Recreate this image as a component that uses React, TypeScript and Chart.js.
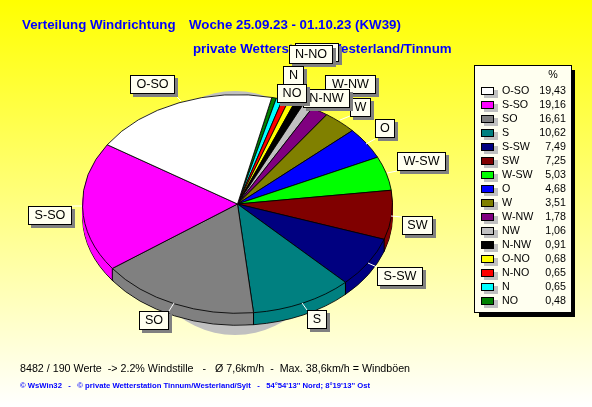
import React, { useEffect, useRef } from "react";
import { Chart, registerables } from "chart.js";

Chart.register(...registerables);

const categories = ["O-SO", "S-SO", "SO", "S", "S-SW", "SW", "W-SW", "O", "W", "W-NW", "NW", "N-NW", "O-NO", "N-NO", "N", "NO"];
const values = [19.43, 19.16, 16.61, 10.62, 7.49, 7.25, 5.03, 4.68, 3.51, 1.78, 1.06, 0.91, 0.68, 0.65, 0.65, 0.48];
const valueLabels = ["19,43", "19,16", "16,61", "10,62", "7,49", "7,25", "5,03", "4,68", "3,51", "1,78", "1,06", "0,91", "0,68", "0,65", "0,65", "0,48"];
const colors = ["#ffffff", "#ff00ff", "#808080", "#008080", "#000080", "#800000", "#00ff00", "#0000ff", "#808000", "#800080", "#c0c0c0", "#000000", "#ffff00", "#ff0000", "#00ffff", "#008000"];
const titleLines = ["Verteilung Windrichtung", "Woche 25.09.23 - 01.10.23 (KW39)", "private Wetterstation Westerland/Tinnum"];
const footerLine = "8482 / 190 Werte  -> 2.2% Windstille   -   Ø 7,6km/h  -  Max. 38,6km/h = Windböen";
const creditLine = "© WsWin32   -   © private Wetterstation Tinnum/Westerland/Sylt   -   54°54'13'' Nord; 8°19'13'' Ost";
// label, box x, y, width, leader start x, y, leader end x, y
const callouts: [string, number, number, number, number, number, number, number][] = [
  ["O-SO", 130, 75, 45, 181, 101, 175, 95],
  ["S-SO", 28, 206, 44, 82, 206, 72, 206],
  ["SO", 139, 311, 30, 174, 303, 169, 311],
  ["S", 307, 310, 20, 302, 303, 307, 310],
  ["S-SW", 377, 267, 46, 368, 263, 377, 267],
  ["SW", 402, 216, 31, 391, 216, 402, 217],
  ["W-SW", 397, 152, 49, 387, 173, 397, 171],
  ["O", 375, 119, 20, 366, 144, 375, 139],
  ["W", 350, 98, 21, 340, 120, 350, 116],
  ["W-NW", 325, 75, 51, 325, 95, 325, 95],
  ["NW", 300, 44, 31, 300, 64, 300, 64],
  ["N-NW", 303, 89, 47, 303, 100, 303, 100],
  ["O-NO", 295, 43, 44, 300, 62, 300, 62],
  ["N-NO", 289, 45, 44, 295, 64, 295, 64],
  ["N", 283, 66, 21, 288, 86, 288, 86],
  ["NO", 277, 84, 30, 280, 103, 280, 103],
];

const CX = 237.5, CY = 204, RY = 0.705, DEPTH = 12;

const applyTilt = (ctx: any, arc: any, cy: number) => {
  ctx.translate(CX, cy);
  ctx.scale(1, RY);
  ctx.translate(-arc.x, -arc.y);
};

const scene = {
  id: "scene",
  beforeDatasetsDraw(chart: any) {
    const { ctx } = chart;
    const arcs = chart.getDatasetMeta(0).data;
    const first = arcs[0];
    const radius = first.outerRadius;
    // drop shadow of the pie
    ctx.save();
    ctx.fillStyle = "#c0c0c0";
    ctx.beginPath();
    ctx.ellipse(235, 213, 105, 122, 0, 0, Math.PI * 2);
    ctx.fill();
    ctx.restore();
    // rim: bottom outline, then fill layers upwards
    ctx.save();
    applyTilt(ctx, first, CY + DEPTH);
    arcs.forEach((a: any) => a.draw(ctx));
    ctx.restore();
    for (let d = DEPTH - 1; d > 0; d--) {
      ctx.save();
      applyTilt(ctx, first, CY + d);
      arcs.forEach((a: any) => {
        const w = a.options.borderWidth;
        a.options.borderWidth = 0;
        a.draw(ctx);
        a.options.borderWidth = w;
      });
      ctx.restore();
    }
    // vertical seams on the visible front of the rim
    ctx.save();
    ctx.strokeStyle = "#000";
    ctx.lineWidth = 1;
    arcs.forEach((a: any) => {
      const s = Math.sin(a.endAngle);
      if (s <= 0) return;
      const x = CX + radius * Math.cos(a.endAngle);
      const y = CY + radius * RY * s;
      ctx.beginPath();
      ctx.moveTo(x, y);
      ctx.lineTo(x, y + DEPTH);
      ctx.stroke();
    });
    ctx.restore();
    ctx.save();
    applyTilt(ctx, first, CY);
  },
  afterDatasetsDraw(chart: any) {
    const { ctx } = chart;
    ctx.restore();
    ctx.save();
    ctx.textBaseline = "middle";
    ctx.font = "bold 13.3px 'Liberation Sans'";
    ctx.fillStyle = "#0000ff";
    ctx.fillText(titleLines[0], 22, 25);
    ctx.fillText(titleLines[1], 189, 25);
    ctx.fillText(titleLines[2], 193, 49);
    ctx.font = "10.7px 'Liberation Sans'";
    ctx.fillStyle = "#000";
    ctx.fillText(footerLine, 20, 369);
    ctx.font = "bold 7.7px 'Liberation Sans'";
    ctx.fillStyle = "#0000ff";
    ctx.fillText(creditLine, 20, 386);

    // legend
    ctx.fillStyle = "#000";
    ctx.fillRect(479, 70, 96, 247);
    ctx.fillStyle = "#fffff0";
    ctx.fillRect(474, 65, 98, 248);
    ctx.strokeStyle = "#000";
    ctx.lineWidth = 1;
    ctx.strokeRect(474.5, 65.5, 97, 247);
    ctx.font = "10.7px 'Liberation Sans'";
    ctx.textAlign = "center";
    ctx.fillStyle = "#000";
    ctx.fillText("%", 553, 75);
    categories.forEach((c, i) => {
      const y = 91 + i * 14;
      ctx.fillStyle = "#c0c0c0";
      ctx.fillRect(484, y - 1, 14, 8);
      ctx.fillStyle = colors[i];
      ctx.fillRect(481.5, y - 3.5, 12, 7);
      ctx.strokeStyle = "#000";
      ctx.strokeRect(481.5, y - 3.5, 12, 7);
      ctx.fillStyle = "#000";
      ctx.textAlign = "left";
      ctx.fillText(c, 502, y);
      ctx.textAlign = "right";
      ctx.fillText(valueLabels[i], 566, y);
    });

    // callouts
    ctx.font = "12.6px 'Liberation Sans'";
    ctx.textAlign = "center";
    callouts.forEach(([t, x, y, w, px, py, ex, ey]) => {
      const h = 19;
      if (px !== ex || py !== ey) {
        ctx.strokeStyle = "#ffffff";
        ctx.beginPath();
        ctx.moveTo(px, py);
        ctx.lineTo(ex, ey);
        ctx.stroke();
      }
      ctx.fillStyle = "#808080";
      ctx.fillRect(x + 3, y + 3, w, h);
      ctx.fillStyle = "#fffff0";
      ctx.fillRect(x, y, w, h);
      ctx.strokeStyle = "#000";
      ctx.strokeRect(x + 0.5, y + 0.5, w - 1, h - 1);
      ctx.fillStyle = "#000";
      ctx.fillText(t, x + w / 2, y + h / 2 + 0.5);
    });
    ctx.restore();
  },
};

export default function App() {
  const ref = useRef<HTMLCanvasElement>(null);
  useEffect(() => {
    const canvas = ref.current!;
    const ctx = canvas.getContext("2d")!;
    const g = ctx.createLinearGradient(0, 0, 0, 407);
    g.addColorStop(0, "#ffff00");
    g.addColorStop(1, "#ffffff");
    const chart = new Chart(canvas, {
      type: "pie",
      data: {
        labels: [...categories].reverse(),
        datasets: [{
          data: [...values].reverse(),
          backgroundColor: [...colors].reverse(),
          borderColor: "#000000",
          borderWidth: 1,
          borderAlign: "center",
        }],
      },
      options: {
        responsive: false,
        animation: false,
        rotation: 12.8,
        radius: 155,
        layout: { padding: 0 },
        plugins: { legend: { display: false }, title: { display: false }, tooltip: { enabled: false } },
      },
      plugins: [
        {
          id: "bg",
          beforeDraw(c: any) {
            c.ctx.save();
            c.ctx.fillStyle = g;
            c.ctx.fillRect(0, 0, 592, 407);
            c.ctx.restore();
          },
        },
        scene,
      ],
    } as any);
    return () => chart.destroy();
  }, []);
  return (
    <canvas
      ref={ref}
      width={592}
      height={407}
      style={{ position: "fixed", left: 0, top: 0, width: 592, height: 407, display: "block" }}
    />
  );
}
